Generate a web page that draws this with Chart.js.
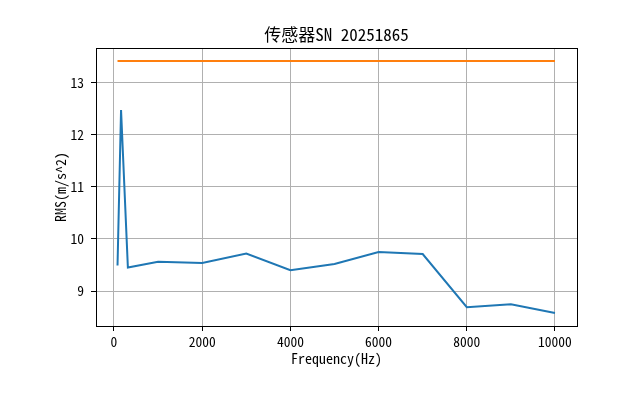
<!DOCTYPE html>
<html>
<head>
<meta charset="utf-8">
<script src="https://cdn.jsdelivr.net/npm/chart.js@4"></script>
<style>
  html, body { margin: 0; padding: 0; background: #fff; }
  #wrap { width: 640px; height: 407px; }
</style>
</head>
<body>
<div id="wrap"><canvas id="rmsChart" width="640" height="407"></canvas></div>
<script>
// data
const freqs = [80, 160, 315, 1000, 2000, 3000, 4000, 5000, 6000, 7000, 8000, 9000, 10000];
const rmsValues = [9.49, 12.47, 9.45, 9.56, 9.54, 9.72, 9.40, 9.52, 9.75, 9.71, 8.69, 8.745, 8.58];
const limitValues = [13.41, 13.41, 13.41, 13.41, 13.41, 13.41, 13.41, 13.41, 13.41, 13.41, 13.41, 13.41, 13.41];
const xTicks = [0, 2000, 4000, 6000, 8000, 10000];
const yTicks = [9, 10, 11, 12, 13];

const fontFamily = "'Noto Sans Mono CJK SC', 'Noto Sans CJK SC', sans-serif";

// black frame round the plot area, like matplotlib's spines
// and the title centred over the plot area rather than the canvas
const framePlugin = {
    id: 'frame',
    afterLayout(chart) {
        const tb = chart.titleBlock;
        if (tb) {
            tb.left = chart.chartArea.left;
            tb.right = chart.chartArea.right;
            tb.width = tb.right - tb.left;
        }
    },
    afterDraw(chart) {
        const a = chart.chartArea;
        const ctx = chart.ctx;
        ctx.save();
        ctx.strokeStyle = '#000';
        ctx.lineWidth = 1;
        ctx.strokeRect(Math.round(a.left) + 0.5, Math.round(a.top) + 0.5,
            Math.round(a.right - a.left), Math.round(a.bottom - a.top));
        ctx.restore();
    }
};

document.addEventListener('DOMContentLoaded', function() {
    const data = {
        labels: freqs,
        datasets: [{
            label: 'RMS',
            data: freqs.map((f, i) => ({ x: f, y: rmsValues[i] })),
            borderColor: '#1f77b4',
            borderWidth: 2,
            pointRadius: 0,
            tension: 0,
        }, {
            label: 'limit',
            data: freqs.map((f, i) => ({ x: f, y: limitValues[i] })),
            borderColor: '#ff7f0e',
            borderWidth: 2,
            pointRadius: 0,
            tension: 0,
        }],
    };

    const options = {
        responsive: false,
        animation: false,
        layout: { padding: { left: 0, right: 63, top: 0, bottom: 0 } },
        plugins: {
            legend: { display: false },
            tooltip: { enabled: false },
            title: {
                display: true,
                text: '传感器SN 20251865',
                color: '#000',
                font: { family: fontFamily, size: 17, weight: 'normal', lineHeight: 1.2 },
                padding: { top: 24, bottom: 3.6 },
            },
        },
        scales: {
            x: {
                type: 'linear',
                min: -408,
                max: 10499,
                afterBuildTicks: (s) => { s.ticks = xTicks.map(v => ({ value: v })); },
                afterFit: (s) => { s.height = 81; },
                ticks: {
                    color: '#000',
                    font: { family: fontFamily, size: 13.5 },
                    padding: 3,
                    maxRotation: 0,
                    autoSkip: false,
                    callback: (v) => String(v),
                },
                grid: { color: '#b0b0b0', lineWidth: 1, tickLength: 5, tickColor: '#000' },
                border: { color: '#000', width: 1 },
                title: {
                    display: true,
                    text: 'Frequency(Hz)',
                    color: '#000',
                    font: { family: fontFamily, size: 14, lineHeight: 1.2 },
                    padding: { top: 0, bottom: 40 },
                },
            },
            y: {
                type: 'linear',
                min: 8.33,
                max: 13.66,
                afterBuildTicks: (s) => { s.ticks = yTicks.map(v => ({ value: v })); },
                afterFit: (s) => { s.width = 96; },
                ticks: {
                    color: '#000',
                    font: { family: fontFamily, size: 13.5 },
                    padding: 7,
                    autoSkip: false,
                    callback: (v) => String(v),
                },
                grid: { color: '#b0b0b0', lineWidth: 1, tickLength: 5, tickColor: '#000' },
                border: { color: '#000', width: 1 },
                title: {
                    display: true,
                    text: 'RMS(m/s^2)',
                    color: '#000',
                    font: { family: fontFamily, size: 14, lineHeight: 1.2 },
                    padding: { top: 52, bottom: 0 },
                },
            },
        },
    };

    new Chart(document.getElementById('rmsChart'), {
        type: 'line',
        data: data,
        options: options,
        plugins: [framePlugin],
    });
});
</script>
</body>
</html>
